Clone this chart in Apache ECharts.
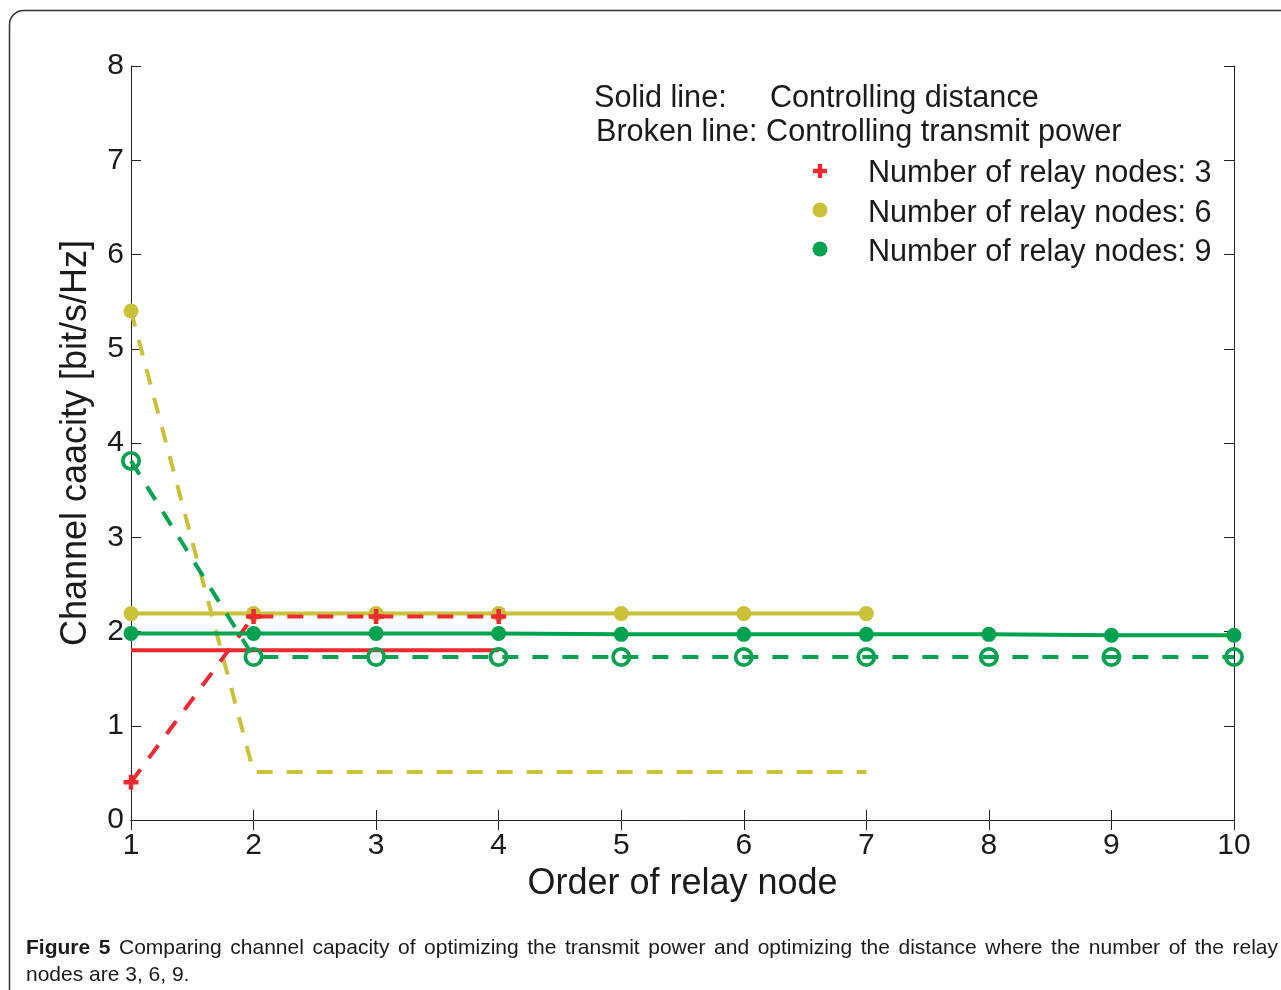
<!DOCTYPE html>
<html>
<head>
<meta charset="utf-8">
<script src="https://cdn.jsdelivr.net/npm/echarts@6/dist/echarts.min.js"></script>
<style>
  html, body { margin: 0; padding: 0; background: #fff; }
  #chart { width: 1281px; height: 990px; }
</style>
</head>
<body>
<div id="chart"></div>
<script>
// Order of relay node (x positions) for each network size
const order3 = [1, 2, 3, 4];
const order6 = [1, 2, 3, 4, 5, 6, 7];
const order9 = [1, 2, 3, 4, 5, 6, 7, 8, 9, 10];

// Channel capacity [bit/s/Hz] — solid: controlling distance, broken: controlling transmit power
const distance3 = [1.80, 1.80, 1.80, 1.80];
const power3    = [0.40, 2.16, 2.16, 2.16];
const distance6 = [2.19, 2.19, 2.19, 2.19, 2.19, 2.19, 2.19];
const power6    = [5.40, 0.51, 0.51, 0.51, 0.51, 0.51, 0.51];
const distance9 = [1.98, 1.98, 1.98, 1.98, 1.97, 1.97, 1.97, 1.97, 1.96, 1.96];
const power9    = [3.81, 1.73, 1.73, 1.73, 1.73, 1.73, 1.73, 1.73, 1.73, 1.73];

const xTicks = ['1', '2', '3', '4', '5', '6', '7', '8', '9', '10'];
const yTicks = ['0', '1', '2', '3', '4', '5', '6', '7', '8'];

const legendNames = ['Number of relay nodes: 3', 'Number of relay nodes: 6', 'Number of relay nodes: 9'];

const captionBold = 'Figure 5';
const captionLine1 = 'Comparing channel capacity of optimizing the transmit power and optimizing the distance where the number of the relay';
const captionLine2 = 'nodes are 3, 6, 9.';

const RED = '#ed2a2f';
const YELLOW = '#c9c13a';
const GREEN = '#00a14f';
const INK = '#1a1a1a';
const FONT = '"Liberation Sans", Arial, Helvetica, sans-serif';
const CAPTION_FONT = '"Liberation Sans Narrow", "Liberation Sans", sans-serif';
const CAPTION_SIZE = 21;

const PLUS = 'path://M-1.2,-4H1.2V-1.2H4V1.2H1.2V4H-1.2V1.2H-4V-1.2H-1.2Z';
const RING = 'path://M0,-10A10,10,0,1,1,0,10A10,10,0,1,1,0,-10Z M0,-6.3A6.3,6.3,0,1,0,0,6.3A6.3,6.3,0,1,0,0,-6.3Z';

function pairs(xs, ys) { return xs.map((x, i) => [x, ys[i]]); }

function label(text, x, y, size, extra) {
  return {
    type: 'text', x: x, y: y, silent: true,
    style: Object.assign({
      text: text, fontFamily: FONT, fontSize: size, fill: INK,
      align: 'left', verticalAlign: 'middle'
    }, extra || {})
  };
}

function plusPoints(cx, cy, a, b) {
  return [
    [cx - b, cy - a], [cx + b, cy - a], [cx + b, cy - b], [cx + a, cy - b],
    [cx + a, cy + b], [cx + b, cy + b], [cx + b, cy + a], [cx - b, cy + a],
    [cx - b, cy + b], [cx - a, cy + b], [cx - a, cy - b], [cx - b, cy - b]
  ];
}

// Lay out a justified caption line word by word between x0 and x1
function justifiedLine(boldText, text, x0, x1, y) {
  const ctx = document.createElement('canvas').getContext('2d');
  const words = [];
  boldText.split(' ').forEach(w => words.push({ w: w, bold: true }));
  text.split(' ').forEach(w => words.push({ w: w, bold: false }));
  let total = 0;
  words.forEach(o => {
    ctx.font = (o.bold ? 'bold ' : '') + CAPTION_SIZE + 'px ' + CAPTION_FONT;
    o.width = ctx.measureText(o.w).width;
    total += o.width;
  });
  const gap = (x1 - x0 - total) / (words.length - 1);
  const els = [];
  let x = x0;
  words.forEach(o => {
    els.push(label(o.w, x, y, CAPTION_SIZE, { fontFamily: CAPTION_FONT, fontWeight: o.bold ? 'bold' : 'normal' }));
    x += o.width + gap;
  });
  return els;
}

const chart = echarts.init(document.getElementById('chart'), null, { renderer: 'canvas' });

const tickAxisCommon = {
  axisLine: { show: true, lineStyle: { color: '#222', width: 1 } },
  axisTick: { show: true, inside: true, length: 10, lineStyle: { color: '#222', width: 1 } },
  splitLine: { show: false }
};

chart.setOption({
  animation: false,
  backgroundColor: '#fff',
  grid: { left: 131, right: 47, top: 66, bottom: 170, containLabel: false },
  xAxis: [
    Object.assign({
      type: 'value', min: 1, max: 10, interval: 1, position: 'bottom',
      name: 'Order of relay node', nameLocation: 'middle', nameGap: 45,
      nameTextStyle: { fontFamily: FONT, fontSize: 36, color: INK },
      axisLabel: {
        fontFamily: FONT, fontSize: 30, color: INK, margin: 11,
        formatter: v => xTicks[v - 1]
      }
    }, tickAxisCommon),
    Object.assign({
      type: 'value', min: 1, max: 10, interval: 1, position: 'top',
      axisLabel: { show: false }
    }, tickAxisCommon)
  ],
  yAxis: [
    Object.assign({
      type: 'value', min: 0, max: 8, interval: 1, position: 'left',
      name: 'Channel caacity [bit/s/Hz]', nameLocation: 'middle', nameGap: 37,
      nameRotate: 90,
      nameTextStyle: { fontFamily: FONT, fontSize: 36, color: INK },
      axisLabel: {
        fontFamily: FONT, fontSize: 30, color: INK, margin: 7,
        formatter: v => yTicks[v]
      }
    }, tickAxisCommon),
    Object.assign({
      type: 'value', min: 0, max: 8, interval: 1, position: 'right',
      axisLabel: { show: false }
    }, tickAxisCommon)
  ],
  graphic: [
    {
      type: 'rect', z: -10, silent: true,
      shape: { x: 9.5, y: 10.5, width: 1320, height: 1020, r: 14 },
      style: { fill: 'none', stroke: '#333', lineWidth: 1.5 }
    },
    label('Solid line:', 594, 99, 30.6),
    label('Controlling distance', 770, 99, 30.6),
    label('Broken line: Controlling transmit power', 596, 133, 30.6),
    // legend entries
    { type: 'polygon', silent: true, shape: { points: plusPoints(820, 171, 7, 2.2) }, style: { fill: RED } },
    { type: 'circle', silent: true, shape: { cx: 820, cy: 210, r: 7.5 }, style: { fill: YELLOW } },
    { type: 'circle', silent: true, shape: { cx: 820, cy: 249, r: 7.5 }, style: { fill: GREEN } },
    label(legendNames[0], 868, 174, 30.6),
    label(legendNames[1], 868, 214, 30.6),
    label(legendNames[2], 868, 253, 30.6)
  ]
    .concat(justifiedLine(captionBold, captionLine1, 26, 1278, 948))
    .concat([label(captionLine2, 26, 975, CAPTION_SIZE, { fontFamily: CAPTION_FONT })]),
  series: [
    {
      name: legendNames[1] + ' (power)', type: 'line', data: pairs(order6, power6),
      lineStyle: { color: YELLOW, width: 4, type: [16, 14] },
      itemStyle: { color: YELLOW },
      symbol: (v, p) => (p.dataIndex === 0 ? 'circle' : 'none'), symbolSize: 15, showSymbol: true, z: 2
    },
    {
      name: legendNames[1] + ' (distance)', type: 'line', data: pairs(order6, distance6),
      lineStyle: { color: YELLOW, width: 4 }, itemStyle: { color: YELLOW },
      symbol: 'circle', symbolSize: 15, z: 3
    },
    {
      name: legendNames[0] + ' (distance)', type: 'line', data: pairs(order3, distance3),
      lineStyle: { color: RED, width: 4 }, itemStyle: { color: RED },
      symbol: 'none', z: 3
    },
    {
      name: legendNames[0] + ' (power)', type: 'line', data: pairs(order3, power3),
      lineStyle: { color: RED, width: 4, type: [16, 14] }, itemStyle: { color: RED },
      symbol: PLUS, symbolSize: 15, z: 4
    },
    {
      name: legendNames[2] + ' (distance)', type: 'line', data: pairs(order9, distance9),
      lineStyle: { color: GREEN, width: 4 }, itemStyle: { color: GREEN },
      symbol: 'circle', symbolSize: 15, z: 5
    },
    {
      name: legendNames[2] + ' (power)', type: 'line', data: pairs(order9, power9),
      lineStyle: { color: GREEN, width: 4, type: [16, 14] }, itemStyle: { color: GREEN },
      symbol: RING, symbolSize: 20, z: 5
    }
  ]
});
</script>
</body>
</html>
